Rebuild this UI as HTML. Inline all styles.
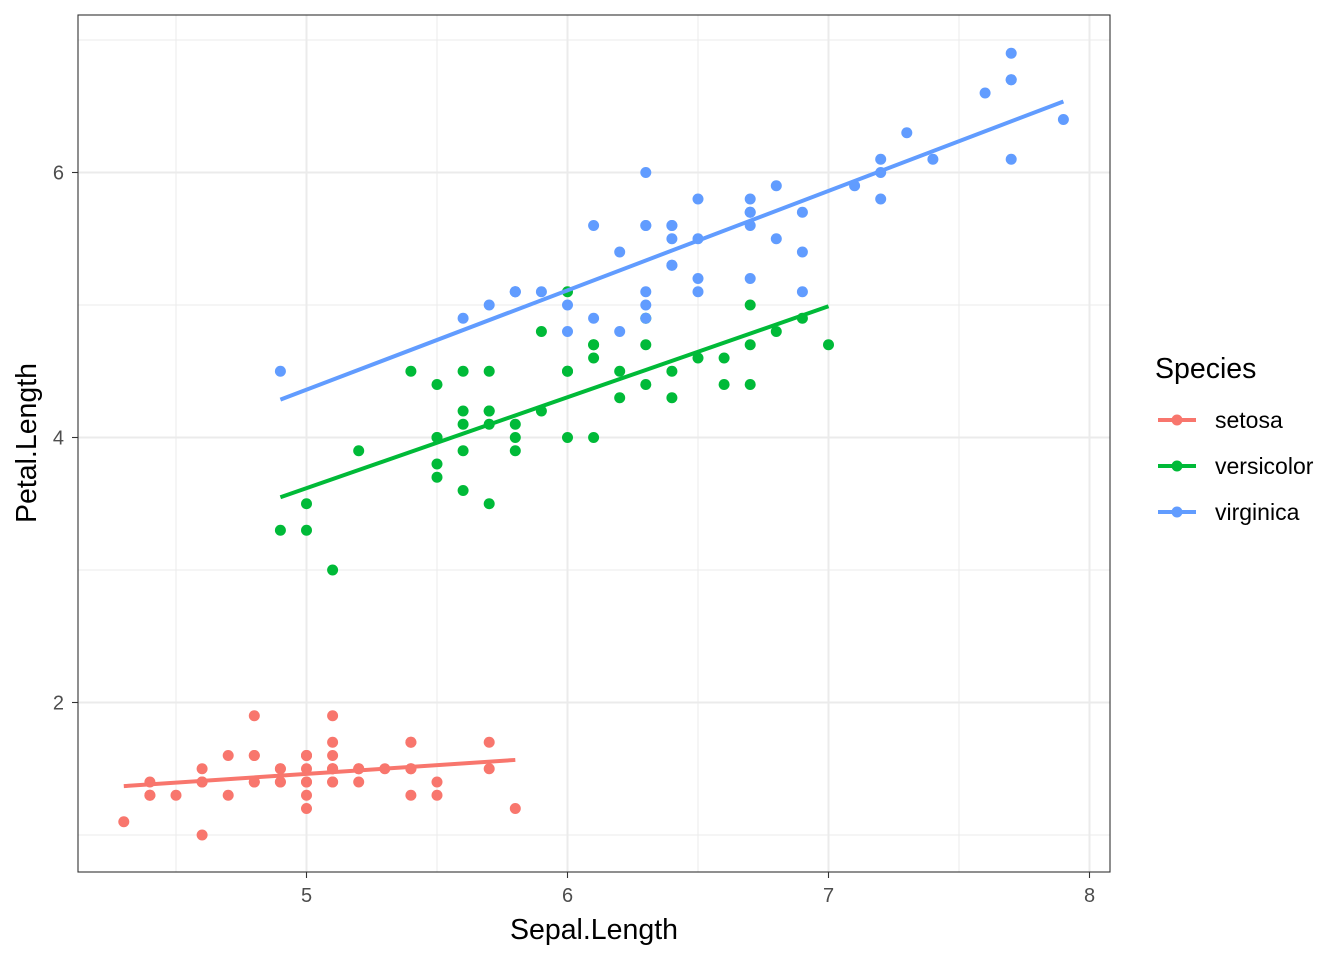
<!DOCTYPE html>
<html><head><meta charset="utf-8"><style>
html,body{margin:0;padding:0;background:#fff}
svg{display:block;font-family:"Liberation Sans",sans-serif}
</style></head><body>
<svg id="s" width="1344" height="960" xmlns="http://www.w3.org/2000/svg">
<rect width="1344" height="960" fill="#fff"/>
<g id="grid"></g>
<g id="pts"></g>
<g id="lines"></g>
<rect x="78" y="15" width="1032" height="857" fill="none" stroke="#333" stroke-width="1.1"/>
<g id="ticks" fill="#4d4d4d" font-size="20"></g>
<text x="594" y="939" text-anchor="middle" font-size="28.5" fill="#000">Sepal.Length</text>
<text transform="translate(36,443) rotate(-90)" text-anchor="middle" font-size="28.5" fill="#000">Petal.Length</text>
<text x="1155" y="378" font-size="28.5" fill="#000">Species</text>
<g stroke-width="4">
<line x1="1158" y1="420" x2="1196" y2="420" stroke="#F8766D"/><circle cx="1177" cy="420" r="5.5" fill="#F8766D"/>
<line x1="1158" y1="466" x2="1196" y2="466" stroke="#00BA38"/><circle cx="1177" cy="466" r="5.5" fill="#00BA38"/>
<line x1="1158" y1="512" x2="1196" y2="512" stroke="#619CFF"/><circle cx="1177" cy="512" r="5.5" fill="#619CFF"/>
</g>
<g font-size="23" fill="#000">
<text x="1215" y="428">setosa</text>
<text x="1215" y="474">versicolor</text>
<text x="1215" y="520">virginica</text>
</g>
</svg>
<script>
var NS="http://www.w3.org/2000/svg";
function X(v){return 306.5+(v-5)*261;}
function Y(v){return 437.5-(v-4)*132.5;}
function el(p,t,a){var e=document.createElementNS(NS,t);for(var k in a)e.setAttribute(k,a[k]);document.getElementById(p).appendChild(e);return e;}
[4.5,5.5,6.5,7.5].forEach(function(v){el("grid","line",{x1:X(v),x2:X(v),y1:15,y2:872,stroke:"#ebebeb","stroke-width":1});});
[1,3,5,7].forEach(function(v){el("grid","line",{y1:Y(v),y2:Y(v),x1:78,x2:1110,stroke:"#ebebeb","stroke-width":1});});
[5,6,7,8].forEach(function(v){el("grid","line",{x1:X(v),x2:X(v),y1:15,y2:872,stroke:"#ebebeb","stroke-width":2});
 el("ticks","line",{x1:X(v),x2:X(v),y1:872,y2:878,stroke:"#333","stroke-width":1.1});
 var t=el("ticks","text",{x:X(v),y:902,"text-anchor":"middle"});t.textContent=v;});
[2,4,6].forEach(function(v){el("grid","line",{y1:Y(v),y2:Y(v),x1:78,x2:1110,stroke:"#ebebeb","stroke-width":2});
 el("ticks","line",{y1:Y(v),y2:Y(v),x1:72,x2:78,stroke:"#333","stroke-width":1.1});
 var t=el("ticks","text",{x:64,y:Y(v)+7,"text-anchor":"end"});t.textContent=v;});
var D=[
["#F8766D",[5.1,4.9,4.7,4.6,5.0,5.4,4.6,5.0,4.4,4.9,5.4,4.8,4.8,4.3,5.8,5.7,5.4,5.1,5.7,5.1,5.4,5.1,4.6,5.1,4.8,5.0,5.0,5.2,5.2,4.7,4.8,5.4,5.2,5.5,4.9,5.0,5.5,4.9,4.4,5.1,5.0,4.5,4.4,5.0,5.1,4.8,5.1,4.6,5.3,5.0],
[1.4,1.4,1.3,1.5,1.4,1.7,1.4,1.5,1.4,1.5,1.5,1.6,1.4,1.1,1.2,1.5,1.3,1.4,1.7,1.5,1.7,1.5,1.0,1.7,1.9,1.6,1.6,1.5,1.4,1.6,1.6,1.5,1.5,1.4,1.5,1.2,1.3,1.4,1.3,1.5,1.3,1.3,1.3,1.6,1.9,1.4,1.6,1.4,1.5,1.4]],
["#00BA38",[7.0,6.4,6.9,5.5,6.5,5.7,6.3,4.9,6.6,5.2,5.0,5.9,6.0,6.1,5.6,6.7,5.6,5.8,6.2,5.6,5.9,6.1,6.3,6.1,6.4,6.6,6.8,6.7,6.0,5.7,5.5,5.5,5.8,6.0,5.4,6.0,6.7,6.3,5.6,5.5,5.5,6.1,5.8,5.0,5.6,5.7,5.7,6.2,5.1,5.7],
[4.7,4.5,4.9,4.0,4.6,4.5,4.7,3.3,4.6,3.9,3.5,4.2,4.0,4.7,3.6,4.4,4.5,4.1,4.5,3.9,4.8,4.0,4.9,4.7,4.3,4.4,4.8,5.0,4.5,3.5,3.8,3.7,3.9,5.1,4.5,4.5,4.7,4.4,4.1,4.0,4.4,4.6,4.0,3.3,4.2,4.2,4.2,4.3,3.0,4.1]],
["#619CFF",[6.3,5.8,7.1,6.3,6.5,7.6,4.9,7.3,6.7,7.2,6.5,6.4,6.8,5.7,5.8,6.4,6.5,7.7,7.7,6.0,6.9,5.6,7.7,6.3,6.7,7.2,6.2,6.1,6.4,7.2,7.4,7.9,6.4,6.3,6.1,7.7,6.3,6.4,6.0,6.9,6.7,6.9,5.8,6.8,6.7,6.7,6.3,6.5,6.2,5.9],
[6.0,5.1,5.9,5.6,5.8,6.6,4.5,6.3,5.8,6.1,5.1,5.3,5.5,5.0,5.1,5.3,5.5,6.7,6.9,5.0,5.7,4.9,6.7,4.9,5.7,6.0,4.8,4.9,5.6,5.8,6.1,6.4,5.6,5.1,5.6,6.1,5.6,5.5,4.8,5.4,5.6,5.1,5.1,5.9,5.7,5.2,5.0,5.2,5.4,5.1]]];
D.forEach(function(d){var c=d[0],x=d[1],y=d[2],n=x.length,mx=0,my=0;
 for(var i=0;i<n;i++){mx+=x[i];my+=y[i];el("pts","circle",{cx:X(x[i]),cy:Y(y[i]),r:5.5,fill:c});}
 mx/=n;my/=n;var sxy=0,sxx=0;for(i=0;i<n;i++){sxy+=(x[i]-mx)*(y[i]-my);sxx+=(x[i]-mx)*(x[i]-mx);}
 var b=sxy/sxx,a=my-b*mx,lo=Math.min.apply(null,x),hi=Math.max.apply(null,x);
 el("lines","line",{x1:X(lo),y1:Y(a+b*lo),x2:X(hi),y2:Y(a+b*hi),stroke:c,"stroke-width":4});});
</script>
</body></html>
